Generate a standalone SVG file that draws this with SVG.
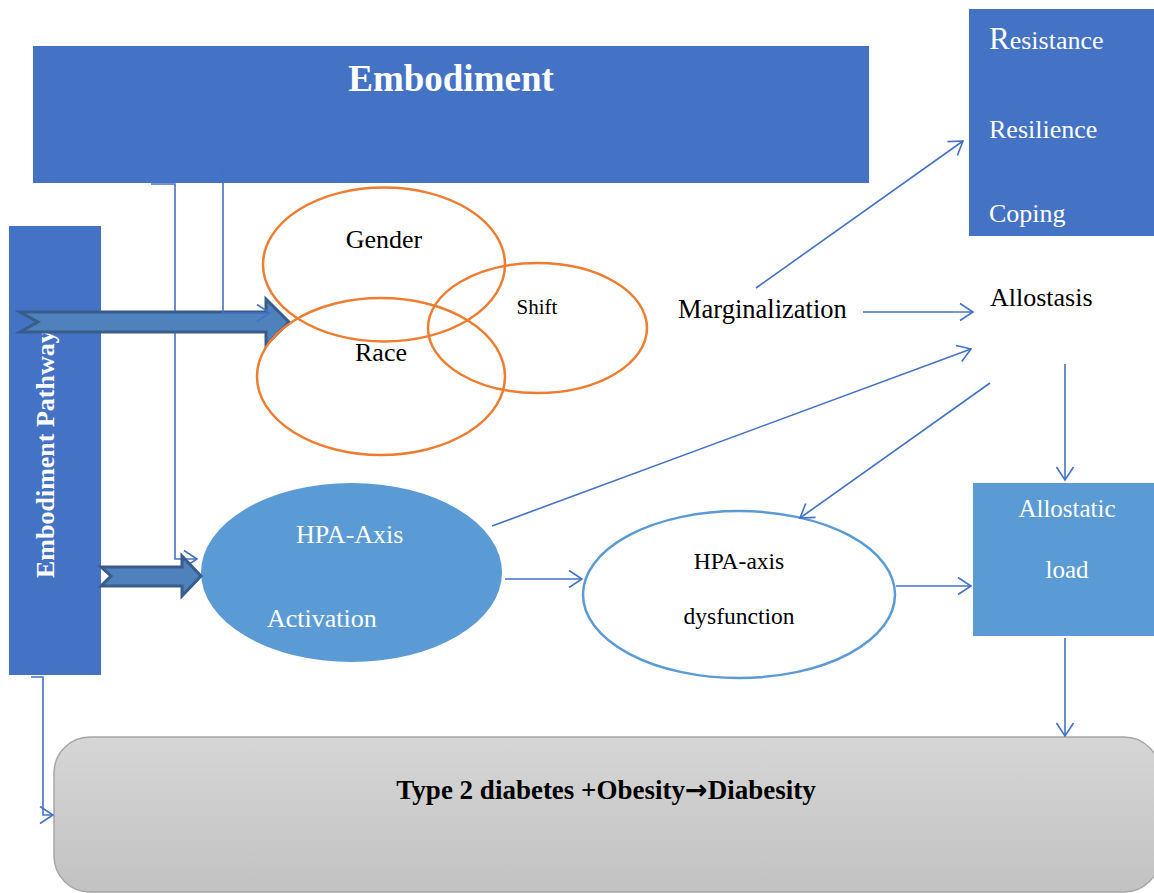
<svg xmlns="http://www.w3.org/2000/svg" width="1154" height="893" viewBox="0 0 1154 893">
<style>
.serif{font-family:"Liberation Serif","Times New Roman",serif}
.wt{fill:#ffffff}
.bk{fill:#000000}
.ln{fill:none;stroke:#4472C4;stroke-width:1.6}
.arw{marker-end:url(#ah)}
.venn{fill:none;stroke:#ED7D31;stroke-width:2.5}
.blk{fill:#4F81BD;stroke:#385D8A;stroke-width:3;stroke-linejoin:miter}
</style>
<defs>
<marker id="ah" markerUnits="userSpaceOnUse" markerWidth="16" markerHeight="20" viewBox="0 0 16 20" refX="14" refY="10" orient="auto">
<path d="M1,1.5 L14,10 L1,18.5" fill="none" stroke="#4472C4" stroke-width="1.6"/>
</marker>
<linearGradient id="gg" x1="0" y1="0" x2="0" y2="1">
<stop offset="0" stop-color="#d6d6d6"/>
<stop offset="1" stop-color="#c2c2c2"/>
</linearGradient>
<clipPath id="actclip"><rect x="200" y="480" width="310" height="147"/></clipPath>
</defs>
<rect width="1154" height="893" fill="#ffffff"/>

<g id="embodiment">
<rect x="33" y="46" width="836" height="137" fill="#4472C4"/>
<text x="451" y="91" text-anchor="middle" class="serif wt" font-size="37" font-weight="bold">Embodiment</text>
</g>

<g id="embodiment-pathway">
<rect x="9" y="226" width="92" height="449" fill="#4472C4"/>
<text transform="translate(54,578) rotate(-90)" class="serif wt" font-size="26" font-weight="bold">Embodiment Pathway</text>
</g>

<g id="resistance">
<rect x="969" y="9" width="190" height="227" fill="#4472C4"/>
<text x="989" y="49" class="serif wt" font-size="26"><tspan font-size="31">R</tspan>esistance</text>
<text x="989" y="138" class="serif wt" font-size="26">Resilience</text>
<text x="989" y="222" class="serif wt" font-size="26">Coping</text>
</g>

<g id="marginalization">
<text x="678" y="318" class="serif bk" font-size="26.5">Marginalization</text>
</g>

<g id="allostasis">
<text x="990" y="306" class="serif bk" font-size="26">Allostasis</text>
</g>

<g id="allostatic-load">
<rect x="973" y="483" width="186" height="153" fill="#5B9BD5"/>
<text x="1067" y="517" text-anchor="middle" class="serif wt" font-size="25">Allostatic</text>
<text x="1067" y="578" text-anchor="middle" class="serif wt" font-size="25">load</text>
</g>

<g id="hpa-activation">
<ellipse cx="351.5" cy="572.5" rx="150.5" ry="89.5" fill="#5B9BD5"/>
<text x="296" y="543" class="serif wt" font-size="26">HPA-Axis</text>
<text x="267" y="627" class="serif wt" font-size="26" clip-path="url(#actclip)">Activation</text>
</g>

<g id="hpa-dysfunction">
<ellipse cx="739" cy="594.5" rx="156" ry="83.5" fill="#ffffff" stroke="#5B9BD5" stroke-width="2.5"/>
<text x="739" y="569" text-anchor="middle" class="serif bk" font-size="23.5">HPA-axis</text>
<text x="739" y="624" text-anchor="middle" class="serif bk" font-size="23.5">dysfunction</text>
</g>

<g id="diabesity">
<rect x="54" y="737" width="1106" height="155" rx="36" ry="36" fill="url(#gg)" stroke="#a6a6a6" stroke-width="1.5"/>
<text x="606" y="799" text-anchor="middle" class="serif bk" font-size="27" font-weight="bold">Type 2 diabetes +Obesity<tspan font-family="'DejaVu Sans',sans-serif" font-size="27">→</tspan>Diabesity</text>
</g>

<g id="connectors">
<polyline class="ln arw" points="151,184 175,184 175,559 197,559"/>
<path class="blk" d="M20,312 L266,312 L266,299 L289,322 L266,345 L266,332 L20,332 L38,322 Z"/>
<path class="blk" d="M101,567 L182,567 L182,556 L201,576 L182,596 L182,586 L101,586 L111,576 Z"/>
<polyline class="ln arw" points="176,165 223,165 223,313 270,313"/>
<polyline class="ln arw" points="31,677 43,677 43,815 53,815"/>
<line class="ln arw" x1="756" y1="288" x2="963" y2="141"/>
<line class="ln arw" x1="863" y1="312" x2="973" y2="312"/>
<line class="ln arw" x1="492" y1="526" x2="971" y2="349"/>
<line class="ln arw" x1="990" y1="383" x2="800" y2="518"/>
<line class="ln arw" x1="1065" y1="364" x2="1065" y2="480"/>
<line class="ln arw" x1="505" y1="579" x2="582" y2="579"/>
<line class="ln arw" x1="896" y1="586" x2="971" y2="586"/>
<line class="ln arw" x1="1065" y1="638" x2="1065" y2="736"/>
</g>

<g id="gender">
<ellipse class="venn" cx="384" cy="264.5" rx="121" ry="77"/>
<text x="384" y="248" text-anchor="middle" class="serif bk" font-size="26">Gender</text>
</g>
<g id="race">
<ellipse class="venn" cx="381" cy="376.5" rx="124" ry="78.5"/>
<text x="381" y="361" text-anchor="middle" class="serif bk" font-size="26">Race</text>
</g>
<g id="shift">
<ellipse class="venn" cx="537.5" cy="328" rx="109.5" ry="65"/>
<text x="537" y="314" text-anchor="middle" class="serif bk" font-size="21">Shift</text>
</g>
</svg>
